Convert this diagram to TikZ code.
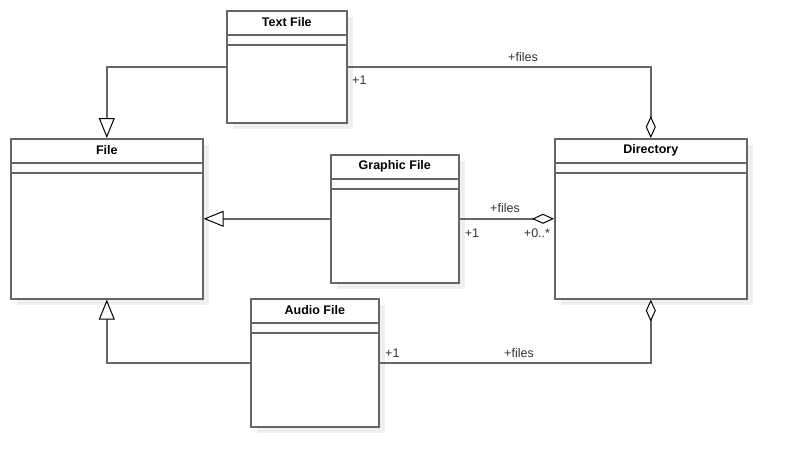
\documentclass[tikz,border=0pt]{standalone}
\usepackage{fontspec}
\setmainfont{Liberation Sans}
\usetikzlibrary{arrows.meta}
\definecolor{bordergray}{HTML}{666666}
\definecolor{shadowgray}{HTML}{EFEFEF}
\definecolor{labelgray}{HTML}{333333}
\tikzset{
  cls/.style={draw=bordergray, line width=1.6pt, fill=white, rectangle, anchor=north west, inner sep=0pt},
  clsshadow/.style={fill=shadowgray, draw=none},
  title/.style={font=\fontsize{12.5}{14}\selectfont\bfseries, text=black},
  sepline/.style={draw=bordergray, line width=1.6pt},
  conn/.style={draw=bordergray, line width=1.4pt},
  gen/.style={conn, -{Triangle[open, width=16pt, length=20pt, line width=1pt, color=black, fill=white]}},
  agg/.style={conn, -{Diamond[open, width=10pt, length=22pt, line width=1pt, color=black, fill=white]}},
  lbl/.style={font=\fontsize{12.5}{14}\selectfont, text=labelgray, inner sep=0pt}
}
\newcommand{\umlbox}[6]{% name, x, y, w, h, title
  \fill[clsshadow] (#2+7,#3+7) rectangle (#2+#4+7,#3+#5+7);
  \node[cls, minimum width=#4pt, minimum height=#5pt] (#1) at (#2,#3) {};
  \node[title] at ([yshift=-12pt]#1.north) {#6};
  \draw[sepline] ([yshift=-25pt]#1.north west) -- ([yshift=-25pt]#1.north east);
  \draw[sepline] ([yshift=-35pt]#1.north west) -- ([yshift=-35pt]#1.north east);
}
\begin{document}
\begin{tikzpicture}[x=1pt,y=-1pt]
\useasboundingbox[fill=white] (0,0) rectangle (786,466);
\umlbox{textf}{226}{10}{120}{112}{Text File}
\umlbox{file}{10}{138}{192}{160}{File}
\umlbox{graphic}{330}{154}{128}{128}{Graphic File}
\umlbox{dir}{554}{138}{192}{160}{Directory}
\umlbox{audio}{250}{298}{128}{128}{Audio File}
% generalizations
\draw[gen] (textf.west) -| (file.north);
\draw[gen] (graphic.west) -- (file.east);
\draw[gen] (audio.west) -| (file.south);
% aggregations
\draw[agg] (textf.east) -| (dir.north);
\draw[agg] (graphic.east) -- (dir.west);
\draw[agg] (audio.east) -| (dir.south);
% labels
\node[lbl] at (523,57) {+files};
\node[lbl, anchor=west] at (352,80) {+1};
\node[lbl] at (505,208) {+files};
\node[lbl] at (472,233) {+1};
\node[lbl] at (537,233) {+0..*};
\node[lbl, anchor=west] at (385,353) {+1};
\node[lbl] at (519,353) {+files};
\end{tikzpicture}
\end{document}
